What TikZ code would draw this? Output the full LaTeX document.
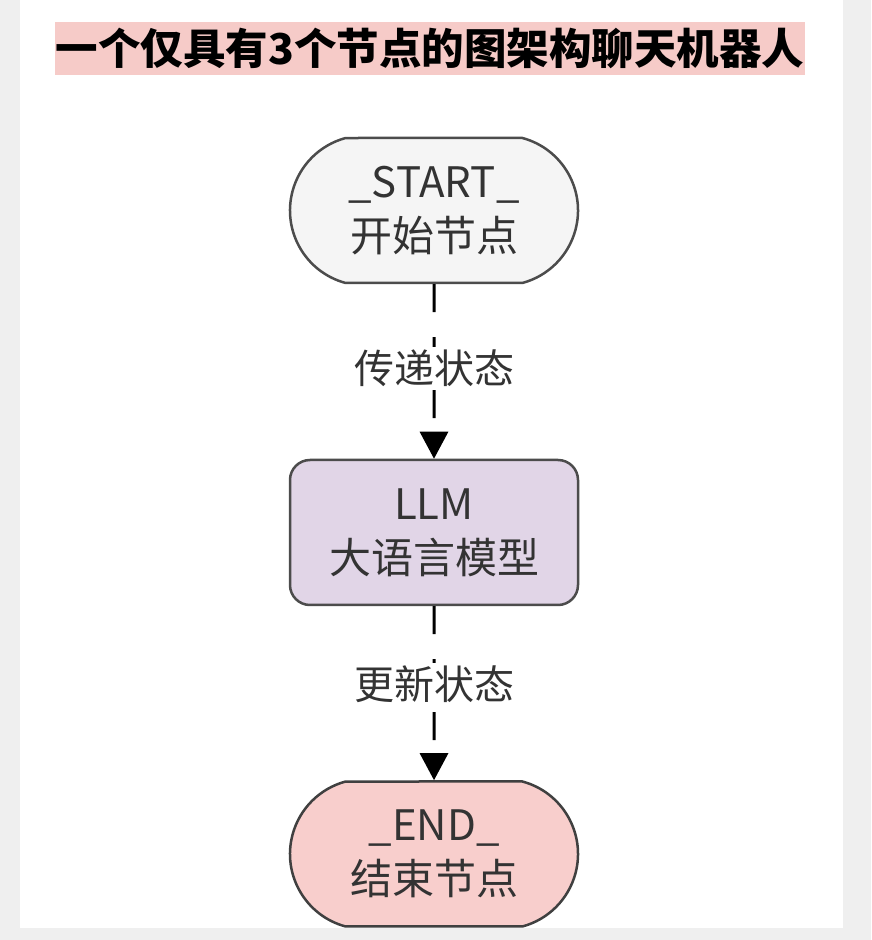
\documentclass[tikz,border=0pt]{standalone}
\usepackage{fontspec}
\newfontfamily\cjk{Noto Sans CJK SC}
\usetikzlibrary{shapes.misc,arrows.meta}
\definecolor{pagegray}{HTML}{EFEFEF}
\definecolor{titlepink}{HTML}{F6CBC8}
\definecolor{startfill}{HTML}{F5F5F5}
\definecolor{llmfill}{HTML}{E1D5E7}
\definecolor{endfill}{HTML}{F8CECC}
\definecolor{textgray}{HTML}{333333}
\begin{document}
\begin{tikzpicture}[x=1pt, y=1pt,
    state/.style={line width=2.5pt, minimum width=288pt, minimum height=145pt, inner sep=0pt,
      align=center, text=textgray, font=\cjk\fontsize{42}{54}\selectfont},
    terminal/.style={state, rounded rectangle, rounded rectangle arc length=150},
    model/.style={state, rectangle, rounded corners=20pt},
    flow/.style={line width=3pt, dash pattern=on 28pt off 25pt, -{Triangle[length=27pt, width=28pt]}},
    flowlabel/.style={fill=white, inner sep=3pt, text=textgray, font=\cjk\fontsize{40}{48}\selectfont}
  ]
  \useasboundingbox (0, 0) rectangle (871, 940);
  \fill [pagegray] (0, 0) rectangle (871, 940);
  \fill [white] (20, 12) rectangle (843, 940);

  % title
  \node [fill=titlepink, minimum width=750pt, minimum height=53pt, inner sep=0pt,
    font=\cjk\bfseries\fontsize{42.5}{48}\selectfont] (title) at (430, 891.5) {一个仅具有3个节点的图架构聊天机器人};

  % nodes
  \node [terminal, draw=black!70, fill=startfill] (start) at (434, 729.5) {\_START\_\\开始节点};
  \node [model, draw=black!70, fill=llmfill] (llm) at (434, 407.5) {LLM\\大语言模型};
  \node [terminal, draw=black!75, fill=endfill] (finish) at (434, 86) {\_END\_\\结束节点};

  % edges
  \draw [flow] (start) -- (llm) node [flowlabel, pos=0.48] (pass) {传递状态};
  \draw [flow] (llm) -- (finish) node [flowlabel, pos=0.45] (update) {更新状态};
\end{tikzpicture}
\end{document}
